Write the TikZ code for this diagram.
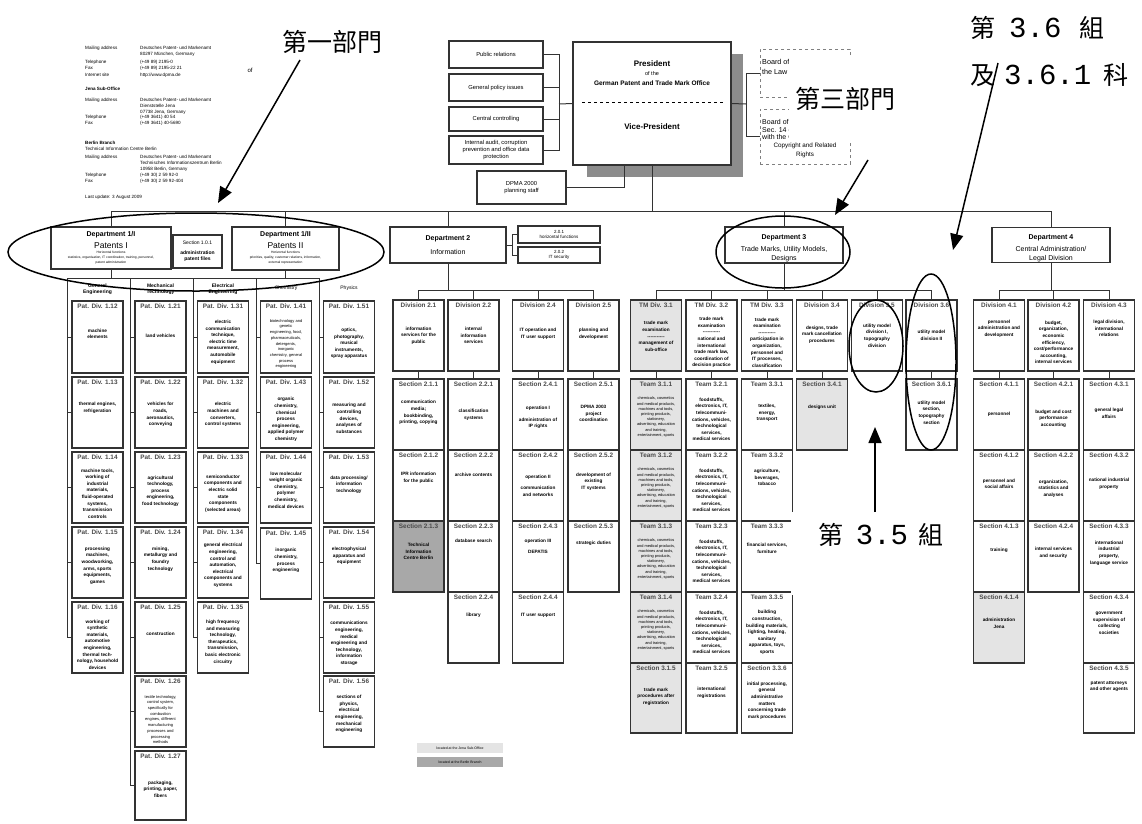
\documentclass[tikz,border=0pt]{standalone}
\usepackage{fontspec}
\setmainfont{Liberation Sans}
\newfontfamily\cjk{Noto Sans CJK TC}
\newfontfamily\mono{Liberation Mono}
\usetikzlibrary{arrows.meta}
\definecolor{boxLN}{HTML}{333333}
\definecolor{fillJENA}{HTML}{E4E4E4}
\definecolor{fillBER}{HTML}{A8A8A8}
\definecolor{shdPRES}{HTML}{8C8C8C}
\definecolor{hdTXT}{HTML}{4A4A4A}
\newcommand{\dsh}{-{}-{}-{}-{}-{}-{}-{}-{}-{}-{}-}
\newcommand{\zhd}[1]{{\mono\fontsize{29}{30}\selectfont#1}}
\newcommand{\tmlist}{chemicals, cosmetics\\and medical products,\\machines and tools,\\printing products,\\stationery,\\advertising, education\\and training,\\entertainment, sports}
\newcommand{\fdlist}{foodstuffs,\\electronics, IT,\\telecommuni-\\cations, vehicles,\\technological\\services,\\medical services}
\newcommand{\orgbox}[9]{%
  \pgfmathsetmacro{\obh}{#4-#3}%
  \pgfmathsetmacro{\obc}{(#3+#4)/2}%
  \pgfmathsetmacro{\obs}{(#3+#4)/2+#7}%
  \node[cell, minimum height=\obh pt, #8] (#1) at (#2,\obc) {};
  \node[hd, anchor=north] (#1h) at ([yshift=-2pt]#1.north) {#5};
  \node[bd, #9] (#1b) at (#2,\obs) {#6};}

\begin{document}
\begin{tikzpicture}[x=1pt, y=-1pt,
  cell/.style={draw=boxLN, line width=1.2pt, fill=white, minimum width=51pt, inner sep=0pt},
  hd/.style={font=\fontsize{6.4}{7}\selectfont\bfseries, text=hdTXT, inner sep=1pt},
  bd/.style={font=\fontsize{4.7}{6.6}\selectfont\bfseries, align=center, inner sep=0pt},
  tm/.style={font=\fontsize{3.9}{5.2}\selectfont},
  sm/.style={font=\fontsize{4}{5.7}\selectfont},
  link/.style={draw=boxLN, line width=1pt},
  sbox/.style={draw=boxLN, line width=1.2pt, fill=white, align=center, inner sep=1pt,
               font=\fontsize{5.8}{7}\selectfont},
  dept/.style={draw=boxLN, line width=1.2pt, fill=white, inner sep=0pt},
  brd/.style={draw=gray, dashed, line width=0.6pt, fill=white, inner sep=0pt},
  adr/.style={font=\fontsize{4.6}{5}\selectfont, anchor=west, inner sep=0pt},
  grp/.style={font=\fontsize{5}{6.5}\selectfont\bfseries, align=center, inner sep=0pt},
  zh/.style={font=\cjk\fontsize{25}{27}\selectfont, inner sep=0pt},
  ann/.style={line width=1.5pt, black},
  pnt/.style={line width=1.5pt, -{Triangle[width=13pt,length=16pt]}}]
\useasboundingbox (0,0) rectangle (1142,823);
\fill[white] (0,0) rectangle (1142,823);
% addresses
\foreach \i/\yy/\la/\va in {1/48/{Mailing address}/{Deutsches Patent- und Markenamt}, 2/54/{}/{80297 München, Germany},
  3/62/Telephone/{(+49 89) 2195-0}, 4/68/Fax/{(+49 89) 2195-22 21}, 5/75/{Internet site}/{http://www.dpma.de},
  6/100/{Mailing address}/{Deutsches Patent- und Markenamt}, 7/106/{}/{Dienststelle Jena}, 8/112/{}/{07738 Jena, Germany},
  9/117/Telephone/{(+49 3641) 40 54}, 10/123/Fax/{(+49 3641) 40-5690},
  11/157/{Mailing address}/{Deutsches Patent- und Markenamt}, 12/163/{}/{Technisches Informationszentrum Berlin},
  13/169/{}/{10958 Berlin, Germany}, 14/175/Telephone/{(+49 30) 2 59 92-0}, 15/181/Fax/{(+49 30) 2 59 92-404}}
  {\node[adr] (adl\i) at (85,\yy) {\la};
   \node[adr] (adv\i) at (140,\yy) {\va};}
\node[adr, font=\fontsize{4.6}{5}\selectfont\bfseries] (jena) at (85,89) {Jena Sub-Office};
\node[adr, font=\fontsize{4.6}{5}\selectfont\bfseries] (berl) at (85,143) {Berlin Branch};
\node[adr] (tic) at (85,149) {Technical Information Centre Berlin};
\node[adr] (lupd) at (85,197) {Last update: 3 August 2009};
\node[font=\fontsize{6}{7}\selectfont, inner sep=0pt] (ofw) at (250,70) {of};
% president and staff units
\node[sbox, minimum width=94pt, minimum height=27pt] (pr) at (496,54.5) {Public relations};
\node[sbox, minimum width=94pt, minimum height=27pt] (gp) at (496,87.5) {General policy issues};
\node[sbox, minimum width=94pt, minimum height=24pt] (cc) at (496,119) {Central controlling};
\node[sbox, minimum width=94pt, minimum height=28pt] (ia) at (496,150) {Internal audit, corruption\\prevention and office data\\protection};
\node[fill=shdPRES, minimum width=156pt, minimum height=123pt, inner sep=0pt] (shd) at (665,115.5) {};
\node[sbox, minimum width=158pt, minimum height=123pt] (pres) at (652,103.5) {};
\node[font=\fontsize{8}{9}\selectfont\bfseries, inner sep=0pt] (prest) at (652,64) {President};
\node[font=\fontsize{5.5}{6}\selectfont, inner sep=0pt] (preso) at (652,74) {of the};
\node[font=\fontsize{6.5}{7}\selectfont\bfseries, inner sep=0pt] (presg) at (652,83) {German Patent and Trade Mark Office};
\draw[dashed, line width=0.7pt] (582,102) -- (725,102);
\node[font=\fontsize{8}{9}\selectfont\bfseries, inner sep=0pt] (presv) at (652,127) {Vice-President};
\node[sbox, minimum width=89pt, minimum height=33pt] (dpma) at (521.5,187.5) {DPMA 2000\\planning staff};
\node[brd, minimum width=90pt, minimum height=48pt] (bd1) at (805,73) {};
\node[brd, minimum width=90pt, minimum height=55pt] (bd2) at (805,136.5) {};
\node[adr, font=\fontsize{7.2}{9.5}\selectfont, align=left] (bd1t) at (762,67) {Board of Arbitration\\the Law on};
\node[adr, font=\fontsize{7}{7.5}\selectfont, align=left] (bd2t) at (762,129.5) {Board of Appeal\\Sec. 14 of the\\with the German};
\node[font=\fontsize{6.3}{9}\selectfont, align=center, inner sep=0pt] (bd2c) at (805,150.5) {Copyright and Related\\Rights};
\coordinate (lspine) at (559,104);
\foreach \b in {pr,gp,cc,ia} {\draw[link] (\b.east) -| (lspine);}
\draw[link] (lspine) -- (pres.west);
\draw[link] (dpma.east) -| ([xshift=-28pt]pres.south);
\coordinate (rspine) at (746,104);
\draw[link] (pres.east) -- (rspine);
\draw[link] (rspine) |- (bd1.west);
\draw[link] (rspine) |- (bd2.west);
% departments
\node[dept, minimum width=120pt, minimum height=42pt] (d1a) at (111,248) {};
\node[font=\fontsize{7}{8}\selectfont\bfseries, inner sep=0pt] (d1at) at (111,235) {Department 1/I};
\node[font=\fontsize{8.5}{9}\selectfont, inner sep=0pt] (d1as) at (111,245.5) {Patents I};
\node[font=\fontsize{3.3}{5}\selectfont, align=center, inner sep=0pt] (d1ah) at (111,258) {Horizontal functions\\statistics, organisation, IT coordination, training, personnel,\\patent administration};
\node[dept, minimum width=49pt, minimum height=33pt] (s101) at (197.5,251.5) {};
\node[font=\fontsize{5}{6}\selectfont, inner sep=0pt] (s101t) at (197.5,243) {Section 1.0.1};
\node[font=\fontsize{5}{6.3}\selectfont\bfseries, align=center, inner sep=0pt] (s101b) at (197.5,256.5) {administration\\patent files};
\node[dept, minimum width=107pt, minimum height=43pt] (d1b) at (285.5,248.5) {};
\node[font=\fontsize{7}{8}\selectfont\bfseries, inner sep=0pt] (d1bt) at (285.5,235) {Department 1/II};
\node[font=\fontsize{8.5}{9}\selectfont, inner sep=0pt] (d1bs) at (285.5,245.5) {Patents II};
\node[font=\fontsize{3.3}{5}\selectfont, align=center, inner sep=0pt] (d1bh) at (285.5,258) {Horizontal functions\\priorities, quality, customer relations, information,\\external representation};
\draw[link] (d1a.east) -- (s101.west);
\node[dept, minimum width=116pt, minimum height=36pt] (d2) at (448,245) {};
\node[font=\fontsize{7}{8}\selectfont\bfseries, inner sep=0pt] (d2t) at (448,239) {Department 2};
\node[font=\fontsize{7}{8}\selectfont, inner sep=0pt] (d2s) at (448,252) {Information};
\node[sbox, minimum width=82pt, minimum height=17pt, font=\fontsize{4.5}{5.5}\selectfont] (a201) at (559,234.5) {2.0.1\\horizontal functions};
\node[sbox, minimum width=82pt, minimum height=16pt, font=\fontsize{4.5}{5.5}\selectfont] (a202) at (559,255) {2.0.2\\IT security};
\coordinate (s2) at (512,245);
\draw[link] (d2.east) -- (s2);
\draw[link] (s2) |- (a201.west);
\draw[link] (s2) |- (a202.west);
\node[dept, minimum width=118pt, minimum height=36pt] (d3) at (784,245) {};
\node[font=\fontsize{7}{8}\selectfont\bfseries, inner sep=0pt] (d3t) at (784,238) {Department 3};
\node[font=\fontsize{7}{8.5}\selectfont, align=center, inner sep=0pt] (d3s) at (784,254) {Trade Marks, Utility Models,\\Designs};
\node[dept, minimum width=118pt, minimum height=35pt] (d4) at (1051,245) {};
\node[font=\fontsize{7}{8}\selectfont\bfseries, inner sep=0pt] (d4t) at (1051,238) {Department 4};
\node[font=\fontsize{7}{8.5}\selectfont, align=center, inner sep=0pt] (d4s) at (1051,254) {Central Administration/\\Legal Division};
\coordinate (tbus) at (652,211);
\draw[link] (pres.south) -- (tbus);
\foreach \d in {d1a,d1b,d2,d3,d4} {\draw[link] (tbus) -| (\d.north);}
% department 1 columns
\foreach \n/\x/\t in {g1/97.5/{General\\Engineering}, g2/160.5/{Mechanical\\Technology}, g3/223/{Electrical\\Engineering}}
  {\node[grp] (\n) at (\x,289) {\t};}
\node[grp, font=\fontsize{5}{6}\selectfont] (g4) at (286,288) {Chemistry};
\node[grp, font=\fontsize{5}{6}\selectfont] (g5) at (349,288) {Physics};
\orgbox{p112}{97.5}{301}{373}{Pat. Div. 1.12}{machine\\elements}{-3}{}{}
\orgbox{p113}{97.5}{377}{448}{Pat. Div. 1.13}{thermal engines,\\refrigeration}{-5}{}{}
\orgbox{p114}{97.5}{452}{523}{Pat. Div. 1.14}{machine tools,\\working of\\industrial\\materials,\\fluid-operated\\systems,\\transmission\\controls}{6}{}{}
\orgbox{p115}{97.5}{527}{598}{Pat. Div. 1.15}{processing\\machines,\\woodworking,\\arms, sports\\equipments,\\games}{3}{}{}
\orgbox{p116}{97.5}{602}{673}{Pat. Div. 1.16}{working of\\synthetic\\materials,\\automotive\\engineering,\\thermal tech-\\nology, household\\devices}{7}{}{}
\orgbox{p121}{160.5}{301}{373}{Pat. Div. 1.21}{land vehicles}{-1}{}{}
\orgbox{p122}{160.5}{377}{448}{Pat. Div. 1.22}{vehicles for\\roads,\\aeronautics,\\conveying}{2}{}{}
\orgbox{p123}{160.5}{452}{523}{Pat. Div. 1.23}{agricultural\\technology,\\process\\engineering,\\food technology}{3.5}{}{}
\orgbox{p124}{160.5}{527}{598}{Pat. Div. 1.24}{mining,\\metallurgy and\\foundry\\technology}{-3.5}{}{}
\orgbox{p125}{160.5}{602}{673}{Pat. Div. 1.25}{construction}{-3.5}{}{}
\orgbox{p126}{160.5}{676}{747}{Pat. Div. 1.26}{textile technology,\\control system,\\specifically for\\combustion\\engines, different\\manufacturing\\processes and\\processing\\methods}{8}{}{sm}
\orgbox{p127}{160.5}{751}{820}{Pat. Div. 1.27}{packaging,\\printing, paper,\\fibers}{3.5}{}{}
\orgbox{p131}{223}{301}{373}{Pat. Div. 1.31}{electric\\communication\\technique,\\electric time\\measurement,\\automobile\\equipment}{5}{}{}
\orgbox{p132}{223}{377}{448}{Pat. Div. 1.32}{electric\\machines and\\converters,\\control systems}{2}{}{}
\orgbox{p133}{223}{452}{523}{Pat. Div. 1.33}{semiconductor\\components and\\electric solid\\state\\components\\(selected areas)}{6}{}{}
\orgbox{p134}{223}{527}{598}{Pat. Div. 1.34}{general electrical\\engineering,\\control and\\automation,\\electrical\\components and\\systems}{3}{}{}
\orgbox{p135}{223}{602}{673}{Pat. Div. 1.35}{high frequency\\and measuring\\technology,\\therapeutics,\\transmission,\\basic electronic\\circuitry}{4.5}{}{}
\orgbox{p141}{286}{301}{373}{Pat. Div. 1.41}{biotechnology and\\genetic\\engineering, food,\\pharmaceuticals,\\detergents,\\inorganic\\chemistry, general\\process\\engineering}{7}{}{sm}
\orgbox{p143}{286}{377}{448}{Pat. Div. 1.43}{organic\\chemistry,\\chemical\\process\\engineering,\\applied polymer\\chemistry}{7}{}{}
\orgbox{p144}{286}{452}{523}{Pat. Div. 1.44}{low molecular\\weight organic\\chemistry,\\polymer\\chemistry,\\medical devices}{2.5}{}{}
\orgbox{p145}{286}{528}{599}{Pat. Div. 1.45}{inorganic\\chemistry,\\process\\engineering}{-3}{}{}
\orgbox{p151}{349}{301}{373}{Pat. Div. 1.51}{optics,\\photography,\\musical\\instruments,\\spray apparatus}{6.5}{}{}
\orgbox{p152}{349}{377}{448}{Pat. Div. 1.52}{measuring and\\controlling\\devices,\\analyses of\\substances}{6}{}{}
\orgbox{p153}{349}{452}{523}{Pat. Div. 1.53}{data processing/\\information\\technology}{-3}{}{}
\orgbox{p154}{349}{527}{598}{Pat. Div. 1.54}{electrophysical\\apparatus and\\equipment}{-6.5}{}{}
\orgbox{p155}{349}{602}{673}{Pat. Div. 1.55}{communications\\engineering,\\medical\\engineering and\\technology,\\information\\storage}{6}{}{}
\orgbox{p156}{349}{676}{747}{Pat. Div. 1.56}{sections of\\physics,\\electrical\\engineering,\\mechanical\\engineering}{2.5}{}{}
\coordinate (c1top) at (67,278);
\coordinate (c2top) at (130,278);
\coordinate (c3top) at (193,278);
\coordinate (c4top) at (256,278);
\coordinate (c5top) at (319,278);
\draw[link] (c1top) -- (c5top);
\draw[link] (d1a.south) -- (d1a.south |- c1top);
\draw[link] (d1b.south) -- (d1b.south |- c1top);
\foreach \b in {p112,p113,p114,p115,p116} {\draw[link] (c1top) |- (\b.west);}
\foreach \b in {p121,p122,p123,p124,p125,p126,p127} {\draw[link] (c2top) |- (\b.west);}
\foreach \b in {p131,p132,p133,p134,p135} {\draw[link] (c3top) |- (\b.west);}
\foreach \b in {p141,p143,p144,p145} {\draw[link] (c4top) |- (\b.west);}
\foreach \b in {p151,p152,p153,p154,p155,p156} {\draw[link] (c5top) |- (\b.west);}
% department 2 columns
\orgbox{v21}{418.5}{300}{371}{Division 2.1}{information\\services for the\\public}{0}{}{}
\orgbox{v22}{473.5}{300}{371}{Division 2.2}{internal\\information\\services}{0}{}{}
\orgbox{v24}{538}{300}{371}{Division 2.4}{IT operation and\\IT user support}{-2}{}{}
\orgbox{v25}{593.5}{300}{371}{Division 2.5}{planning and\\development}{-2}{}{}
\orgbox{s211}{418.5}{379}{450}{Section 2.1.1}{communication\\media;\\bookbinding,\\printing, copying}{-2}{}{}
\orgbox{s212}{418.5}{450}{521}{Section 2.1.2}{IPR information\\for the public}{-8}{}{}
\orgbox{s213}{418.5}{521}{592}{Section 2.1.3}{Technical\\Information\\Centre Berlin}{-5}{fill=fillBER}{}
\orgbox{s221}{473.5}{379}{450}{Section 2.2.1}{classification\\systems}{0}{}{}
\orgbox{s222}{473.5}{450}{521}{Section 2.2.2}{archive contents}{-11}{}{}
\orgbox{s223}{473.5}{521}{592}{Section 2.2.3}{database search}{-16}{}{}
\orgbox{s224}{473.5}{592}{663}{Section 2.2.4}{library}{-12}{}{}
\orgbox{s241}{538}{379}{450}{Section 2.4.1}{operation I\\[5pt]administration of\\IP rights}{3}{}{}
\orgbox{s242}{538}{450}{521}{Section 2.4.2}{operation II\\[5pt]communication\\and networks}{0}{}{}
\orgbox{s243}{538}{521}{592}{Section 2.4.3}{operation III\\[5pt]DEPATIS}{-10}{}{}
\orgbox{s244}{538}{592}{663}{Section 2.4.4}{IT user support}{-12}{}{}
\orgbox{s251}{593.5}{379}{450}{Section 2.5.1}{DPMA 2003\\project\\coordination}{-1}{}{}
\orgbox{s252}{593.5}{450}{521}{Section 2.5.2}{development of\\existing\\IT systems}{-4}{}{}
\orgbox{s253}{593.5}{521}{592}{Section 2.5.3}{strategic duties}{-13}{}{}
% department 3 columns
\orgbox{v31}{656}{300}{371}{TM Div. 3.1}{trade mark\\examination\\\dsh\\management of\\sub-office}{1}{fill=fillJENA}{}
\orgbox{v32}{711.5}{300}{371}{TM Div. 3.2}{trade mark\\examination\\\dsh\\national and\\international\\trade mark law,\\coordination of\\decision practice}{7}{}{}
\orgbox{v33}{767}{300}{371}{TM Div. 3.3}{trade mark\\examination\\\dsh\\participation in\\organization,\\personnel and\\IT processes,\\classification}{7}{}{}
\orgbox{v34}{822}{300}{371}{Division 3.4}{designs, trade\\mark cancellation\\procedures}{-1}{}{}
\orgbox{v35}{877}{300}{371}{Division 3.5}{utility model\\division I,\\topography\\division}{0}{}{}
\orgbox{v36}{931.5}{300}{371}{Division 3.6}{utility model\\division II}{0}{}{}
\foreach \k/\tp in {1/379,2/450,3/521,4/592}
  {\pgfmathtruncatemacro{\bt}{\tp+71}%
   \orgbox{t31\k}{656}{\tp}{\bt}{Team 3.1.\k}{\tmlist}{2.5}{fill=fillJENA}{tm}
   \orgbox{t32\k}{711.5}{\tp}{\bt}{Team 3.2.\k}{\fdlist}{5}{}{}}
\orgbox{s315}{656}{663}{733}{Section 3.1.5}{trade mark\\procedures after\\registration}{-1.5}{fill=fillJENA}{}
\orgbox{t325}{711.5}{663}{733}{Team 3.2.5}{international\\registrations}{-5}{}{}
\orgbox{t331}{767}{379}{450}{Team 3.3.1}{textiles,\\energy,\\transport}{-1.5}{}{}
\orgbox{t332}{767}{450}{521}{Team 3.3.2}{agriculture,\\beverages,\\tobacco}{-8}{}{}
\orgbox{t333}{767}{521}{592}{Team 3.3.3}{financial services,\\furniture}{-8}{}{}
\orgbox{t335}{767}{592}{663}{Team 3.3.5}{building\\construction,\\building materials,\\lighting, heating,\\sanitary\\apparatus, toys,\\sports}{5}{}{}
\orgbox{s336}{767}{663}{733}{Section 3.3.6}{initial processing,\\general\\administrative\\matters\\concerning trade\\mark procedures}{2.5}{}{}
\orgbox{s341}{822}{379}{450}{Section 3.4.1}{designs unit}{-7.5}{fill=fillJENA}{}
\orgbox{s361}{931.5}{379}{450}{Section 3.6.1}{utility model\\section,\\topography\\section}{-2}{}{}
% department 4 columns
\orgbox{v41}{999}{300}{371}{Division 4.1}{personnel\\administration and\\development}{-7}{}{}
\orgbox{v42}{1053.5}{300}{371}{Division 4.2}{budget,\\organization,\\economic\\efficiency,\\cost/performance\\accounting,\\internal services}{7}{}{}
\orgbox{v43}{1109}{300}{371}{Division 4.3}{legal division,\\international\\relations}{-7}{}{}
\orgbox{s411}{999}{379}{450}{Section 4.1.1}{personnel}{0}{}{}
\orgbox{s412}{999}{450}{521}{Section 4.1.2}{personnel  and\\social affairs}{-1.5}{}{}
\orgbox{s413}{999}{521}{592}{Section 4.1.3}{training}{-6.5}{}{}
\orgbox{s414}{999}{592}{663}{Section 4.1.4}{administration\\Jena}{-4}{fill=fillJENA}{}
\orgbox{s421}{1053.5}{379}{450}{Section 4.2.1}{budget and cost\\performance\\accounting}{4}{}{}
\orgbox{s422}{1053.5}{450}{521}{Section 4.2.2}{organization,\\statistics and\\analyses}{3}{}{}
\orgbox{s424}{1053.5}{521}{592}{Section 4.2.4}{internal services\\and security}{-3.5}{}{}
\orgbox{s431}{1109}{379}{450}{Section 4.3.1}{general legal\\affairs}{-1}{}{}
\orgbox{s432}{1109}{450}{521}{Section 4.3.2}{national industrial\\property}{-2}{}{}
\orgbox{s433}{1109}{521}{592}{Section 4.3.3}{international\\industrial\\property,\\language service}{-3.5}{}{}
\orgbox{s434}{1109}{592}{663}{Section 4.3.4}{government\\supervision of\\collecting\\societies}{-4.5}{}{}
\orgbox{s435}{1109}{663}{733}{Section 4.3.5}{patent attorneys\\and other agents}{-11.5}{}{}
% division links
\coordinate (b2) at (448,290);
\coordinate (b3) at (784,290);
\coordinate (b4) at (1051,290);
\draw[link] (d2.south) -- (b2);
\draw[link] (d3.south) -- (b3);
\draw[link] (d4.south) -- (b4);
\foreach \v in {v21,v22,v24,v25} {\draw[link] (b2) -| (\v.north);}
\foreach \v in {v31,v32,v33,v34,v35,v36} {\draw[link] (b3) -| (\v.north);}
\foreach \v in {v41,v42,v43} {\draw[link] (b4) -| (\v.north);}
\foreach \a/\b in {v21/s211,v22/s221,v24/s241,v25/s251,v31/t311,v32/t321,v33/t331,v34/s341,v36/s361,v41/s411,v42/s421,v43/s431}
  {\draw[link] (\a.south) -- (\b.north);}
% legend
\node[fill=fillJENA, minimum width=86pt, minimum height=10pt, inner sep=0pt, font=\fontsize{3.5}{4}\selectfont] (lgj) at (460,748) {located at the Jena Sub-Office};
\node[fill=fillBER, minimum width=86pt, minimum height=10pt, inner sep=0pt, font=\fontsize{3.5}{4}\selectfont] (lgb) at (460,762) {located at the Berlin Branch};
% annotations
\node[fill=white, minimum width=122pt, minimum height=82pt, inner sep=0pt] (w3) at (850,99) {};
\node[zh] (t3) at (845,99) {第三部門};
\node[fill=white, minimum width=174pt, minimum height=83pt, inner sep=0pt] (w35) at (878,553.5) {};
\node[zh] (t35) at (881,535) {第\hspace{12pt}\zhd{3.5}\hspace{10pt}組};
\node[zh] (t1) at (332,42) {第一部門};
\node[zh, anchor=west] (t36a) at (970,28) {第\hspace{14pt}\zhd{3.6}\hspace{18pt}組};
\node[zh, anchor=west] (t36b) at (970,75) {及\hspace{9pt}\zhd{3.6.1}\hspace{12pt}科};
\draw[ann] (196,252) ellipse [x radius=188, y radius=39];
\draw[ann] (783,252) ellipse [x radius=67, y radius=36];
\draw[ann] (876,346) ellipse [x radius=27, y radius=46];
\draw[ann] (931,362) ellipse [x radius=25, y radius=88];
\coordinate (a1s) at (300,60);
\coordinate (a1e) at (218,203);
\coordinate (a3s) at (868,160);
\coordinate (a3e) at (835,215);
\coordinate (a6s) at (998,63);
\coordinate (a6e) at (953,250);
\coordinate (a5s) at (875,512);
\coordinate (a5e) at (875,427);
\draw[pnt] (a1s) -- (a1e);
\draw[pnt] (a3s) -- (a3e);
\draw[pnt] (a6s) -- (a6e);
\draw[pnt] (a5s) -- (a5e);
\end{tikzpicture}
\end{document}
